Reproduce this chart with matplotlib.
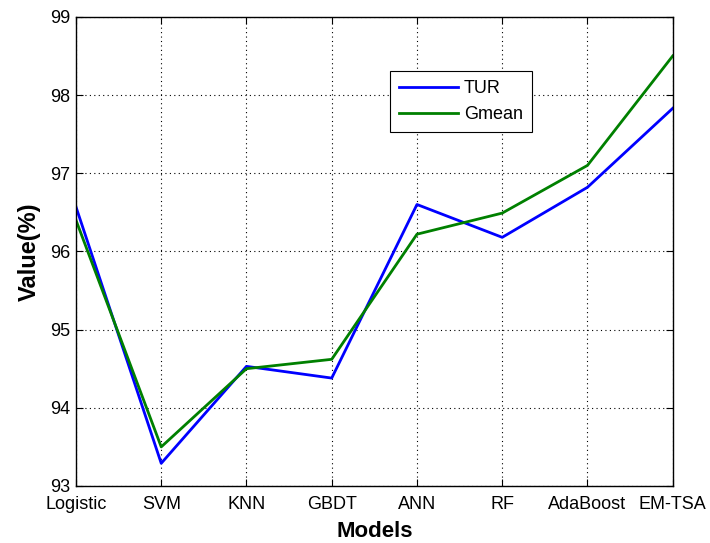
import matplotlib
matplotlib.use('Agg')
import matplotlib.pyplot as plt

plt.rcParams['font.family'] = ['Liberation Sans', 'DejaVu Sans']

models = ['Logistic', 'SVM', 'KNN', 'GBDT', 'ANN', 'RF', 'AdaBoost', 'EM-TSA']
tur = [96.57, 93.29, 94.53, 94.38, 96.60, 96.18, 96.82, 97.83]
gmean = [96.40, 93.50, 94.50, 94.62, 96.22, 96.49, 97.10, 98.50]
yticks = [93, 94, 95, 96, 97, 98, 99]

fig = plt.figure(figsize=(7.1, 5.43), dpi=100)
ax = fig.add_axes([0.107, 0.105, 0.8405, 0.864])

x = range(len(models))
ax.plot(x, tur, color='#0000ff', linewidth=2, label='TUR')
ax.plot(x, gmean, color='#008000', linewidth=2, label='Gmean')

ax.set_xlim(0, len(models) - 1)
ax.set_ylim(93, 99)
ax.set_xticks(list(x))
ax.set_xticklabels(models)
ax.set_yticks(yticks)
ax.tick_params(direction='in', top=True, right=True, labelsize=13, length=5)
ax.tick_params(axis='x', pad=7)
ax.tick_params(axis='y', pad=4)
ax.grid(True, color='black', linestyle=(0, (1, 3)), linewidth=0.8)
for s in ax.spines.values():
    s.set_linewidth(1)

ax.set_xlabel('Models', fontsize=16, fontweight='bold', labelpad=6)
ax.set_ylabel('Value(%)', fontsize=17, fontweight='bold', labelpad=7)

leg = ax.legend(loc='upper left', bbox_to_anchor=(0.526, 0.884), fontsize=13,
                fancybox=False, edgecolor='black', framealpha=1,
                handlelength=3.3, borderpad=0.5, labelspacing=0.5, handletextpad=0.3,
                borderaxespad=0)
leg.get_frame().set_linewidth(0.8)

fig.savefig('out.png', dpi=100)
